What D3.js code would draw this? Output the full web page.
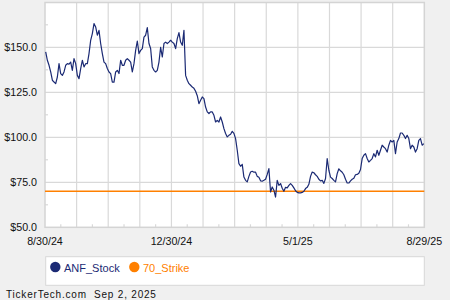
<!DOCTYPE html>
<html><head><meta charset="utf-8">
<script src="https://cdn.jsdelivr.net/npm/d3@7"></script>
<style>
html,body{margin:0;padding:0;background:#f0f0f0;}
svg{display:block;font-family:"Liberation Sans",Arial,sans-serif;}
</style></head>
<body>
<svg id="chart" width="450" height="300"></svg>
<script>
// ---- data ----
const stockValues = [
147.4,142.8,140,136.3,131.7,130.7,129.8,133.5,140.9,135.4,134.4,136.3,140,140.9,140.6,141.8,137.2,143.7,140.9,134.4,
132.6,138.2,142.8,139.1,140.9,140.9,146.5,153.9,157.6,163.2,161.3,156.7,159.4,152.1,146.5,141.8,140.9,138.2,136.3,135.4,
130.7,130.7,136.3,137.2,135.4,142.8,140,140,142.8,143.7,142.8,141.8,136.3,
140.9,148.3,153.5,146.5,148.3,149.3,155.7,156.7,160.9,152.1,149.3,139.1,137.2,136.3,137.2,141.8,150,144.6,152.1,152.9,
152.1,152.9,153.9,152.9,152.1,149.3,154.8,158.2,152.9,151.1,159.4,134.4,131.7,129.8,128.9,127.9,127.2,
125.6,123.1,118.7,120.6,122.4,121.5,116.8,114.1,113.2,114.1,114.1,112.2,108.5,109.4,108.5,111.3,108.5,104.8,102.1,100.2,
101.1,101.7,103.3,102.2,99.3,92.8,85.4,83.9,85,77.9,76.1,75.2,78.3,80.7,81.1,80.6,80.6,78.3,77.8,75.8,
75.6,76.1,76.7,79.4,82.6,69.6,72.4,70.6,66.8,76.1,73.3,74.3,71.7,70,72.2,71.9,73.3,74.3,73.3,71.9,
70.3,69.4,69.1,69.1,69.4,70,71.5,72.2,73.9,78.3,80.7,80.3,79.2,78.3,76.7,75.8,76.1,74.4,77.1,88.2,
81.7,77.9,77.1,76.1,75.2,79.8,82.5,81.4,80.6,79.2,76.7,74.6,74.6,75.8,76.7,77.2,79.2,79.4,80,82.1,
88.2,90,90.9,88.2,86.3,87.2,88.2,90.9,89.1,92.8,90,92.8,95.6,94.6,93.7,91.8,95.6,98.3,97.4,98.3,
90.9,97.4,99.3,102.4,102.4,101.1,99.3,101.1,99.3,93.7,95.6,94.6,91.8,93.7,98.3,99.3,95.6,96.5
];
const strikeValue = 70;
const xTickLabels = ["8/30/24", "12/30/24", "5/1/25", "8/29/25"];
const xTickSteps = [0, 4, 8, 12];      // of 12 monthly divisions
const yTicks = [50, 75, 100, 125, 150];
const yMinorTicks = [62.5, 87.5, 112.5, 137.5, 162.5];
const seriesNames = ["ANF_Stock", "70_Strike"];
const footerText = "TickerTech.com  Sep 2, 2025";

// ---- layout ----
const svg = d3.select("#chart");
const L = 45, R = 424.3, T = 2.5, B = 227.3;
const navy = "#1b2a74", orange = "#ff8000", grid = "#d9d9d9";
const N = stockValues.length;

const x = d3.scaleLinear().domain([0, N - 1]).range([L + 0.7, R - 0.5]);
const y = d3.scaleLinear().domain([50, 175]).range([B, B - 125 * 1.8]);
const xDiv = d3.scaleLinear().domain([0, 12]).range([L, R]);

svg.append("rect").attr("width", 450).attr("height", 300).attr("fill", "#f0f0f0");
svg.append("rect").attr("x", L).attr("y", T).attr("width", R - L).attr("height", B - T)
  .attr("fill", "#fff");

// grid
const g = svg.append("g");
g.selectAll(".vg").data(d3.range(1, 12)).enter().append("line")
  .attr("x1", d => xDiv(d)).attr("x2", d => xDiv(d)).attr("y1", T).attr("y2", B)
  .attr("stroke", grid).attr("stroke-width", 1.2);
g.selectAll(".hg").data(yTicks.slice(1)).enter().append("line")
  .attr("x1", L).attr("x2", R).attr("y1", d => y(d)).attr("y2", d => y(d))
  .attr("stroke", grid).attr("stroke-width", 1.2);
// minor ticks
g.selectAll(".mx").data(d3.range(0, 12)).enter().append("line")
  .attr("x1", d => xDiv(d + 0.5)).attr("x2", d => xDiv(d + 0.5)).attr("y1", B).attr("y2", B - 3)
  .attr("stroke", grid).attr("stroke-width", 1.2);
g.selectAll(".my").data(yMinorTicks).enter().append("line")
  .attr("x1", L).attr("x2", L + 3).attr("y1", d => y(d)).attr("y2", d => y(d))
  .attr("stroke", grid).attr("stroke-width", 1.2);
// border
svg.append("rect").attr("x", L).attr("y", T).attr("width", R - L).attr("height", B - T)
  .attr("fill", "none").attr("stroke", "#d4d4d4").attr("stroke-width", 1.5);

// strike line
svg.append("line").attr("x1", L).attr("x2", R).attr("y1", y(strikeValue)).attr("y2", y(strikeValue))
  .attr("stroke", orange).attr("stroke-width", 1.5);

// stock line
const line = d3.line().x((d, i) => x(i)).y(d => y(d));
svg.append("path").datum(stockValues).attr("d", line)
  .attr("fill", "none").attr("stroke", navy).attr("stroke-width", 1.2).attr("stroke-linejoin", "round");

// y labels
svg.selectAll(".yl").data(yTicks).enter().append("text")
  .attr("x", 37).attr("y", d => y(d) + 4).attr("text-anchor", "end")
  .attr("font-size", "10.7px").attr("fill", "#111").text(d => "$" + d.toFixed(1));
// x labels
svg.selectAll(".xl").data(xTickLabels).enter().append("text")
  .attr("x", (d, i) => xDiv(xTickSteps[i])).attr("y", 245).attr("text-anchor", "middle")
  .attr("font-size", "10.7px").attr("fill", "#111").text(d => d);

// legend
svg.append("rect").attr("x", 45.7).attr("y", 256.7).attr("width", 378.6).attr("height", 28.6)
  .attr("fill", "#fff").attr("stroke", "#d8d8d8").attr("stroke-width", 1);
const legX = [55.3, 134.3];
const legColors = [navy, orange];
seriesNames.forEach((name, i) => {
  svg.append("circle").attr("cx", legX[i]).attr("cy", 267).attr("r", 5.2).attr("fill", legColors[i]);
  svg.append("text").attr("x", legX[i] + 8.7).attr("y", 271.5).attr("font-size", "11px")
    .attr("fill", legColors[i]).text(name);
});

// footer
svg.append("text").attr("x", 6).attr("y", 297.5).attr("font-size", "10px")
  .attr("letter-spacing", "0.8px").attr("fill", "#111").attr("xml:space", "preserve").text(footerText);
</script>
</body></html>
